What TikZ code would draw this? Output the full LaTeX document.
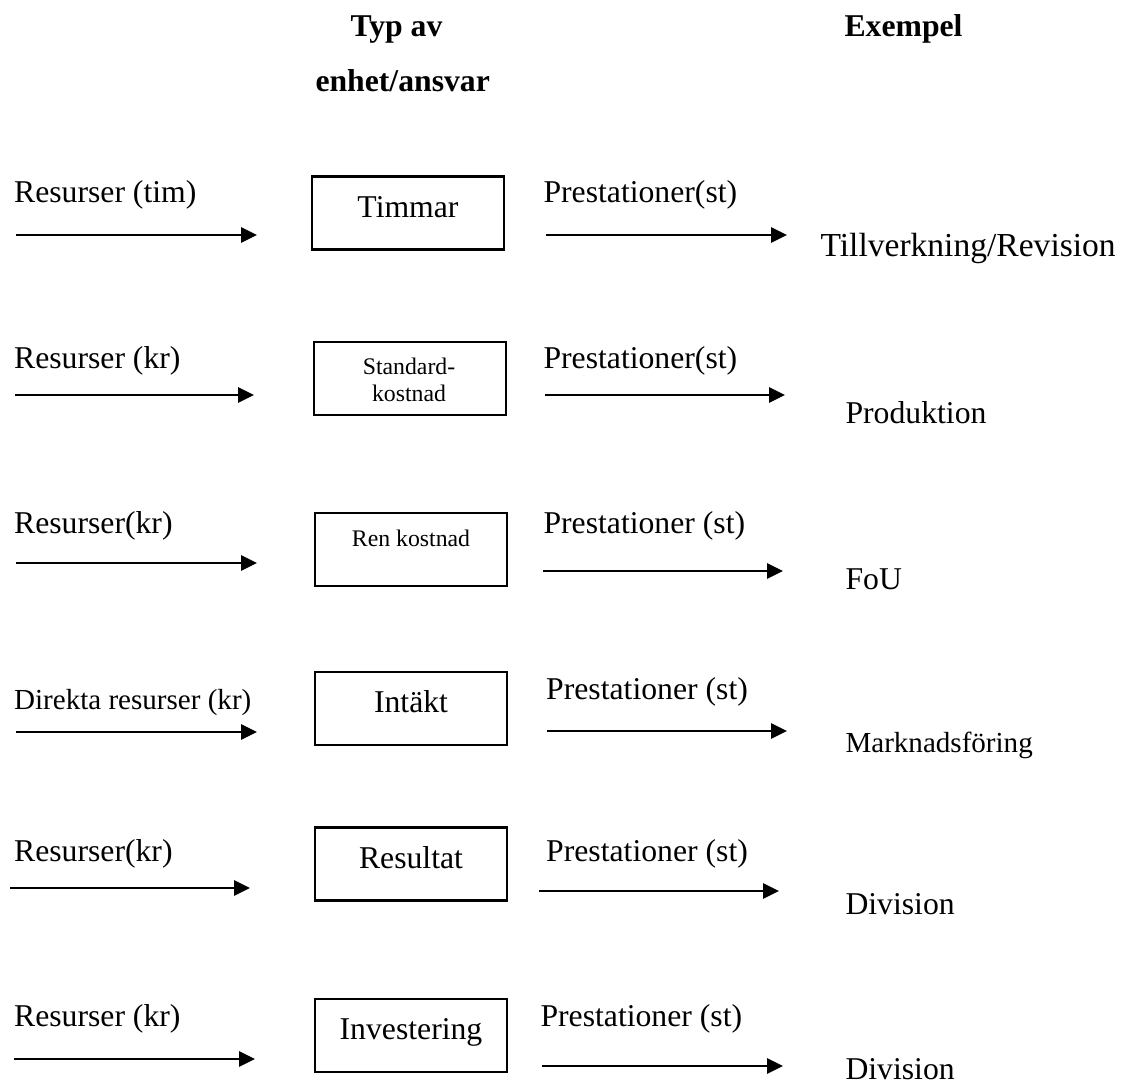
\documentclass[tikz,border=0pt]{standalone}
\usepackage{fontspec}
\setmainfont{Liberation Serif}
\usetikzlibrary{arrows.meta}
\begin{document}
\begin{tikzpicture}[x=0.3785pt, y=-0.3785pt,
  lbl/.style={anchor=base west, inner sep=0pt, font=\fontsize{12}{14}\selectfont},
  lblsmall/.style={lbl, font=\fontsize{11}{13}\selectfont},
  lblwide/.style={lbl, font=\fontsize{12.7}{15}\selectfont},
  hdr/.style={anchor=base west, inner sep=0pt, font=\fontsize{12}{14}\selectfont\bfseries},
  unitbox/.style={draw, line width=0.8pt, minimum width=73pt, minimum height=27.6pt, inner sep=0pt},
  boxtxt/.style={anchor=base, inner sep=0pt, font=\fontsize{12}{14}\selectfont},
  boxtxtsmall/.style={boxtxt, font=\fontsize{9}{10}\selectfont},
  flow/.style={line width=0.8pt, -{Triangle[length=6pt,width=5.7pt]}}]

% page frame
\useasboundingbox (0,0) rectangle (1131,1084);

% column headings
\node[hdr] (hTyp) at (350,37) {Typ av};
\node[hdr] (hEnhet) at (315,92) {enhet/ansvar};
\node[hdr] (hEx) at (844,37) {Exempel};

% ---- row 1: Timmar
\node[lbl] (in1) at (13.6,203) {Resurser (tim)};
\coordinate (a1s) at (16,235); \coordinate (a1e) at (257,235);
\draw[flow] (a1s) -- (a1e);
\node[unitbox] (b1) at (408,213) {};
\node[boxtxt] (t1) at (408,218) {Timmar};
\node[lbl] (out1) at (543,203) {Prestationer(st)};
\coordinate (c1s) at (546,235); \coordinate (c1e) at (787,235);
\draw[flow] (c1s) -- (c1e);
\node[lblwide] (ex1) at (820,257) {Tillverkning/Revision};

% ---- row 2: Standardkostnad
\node[lbl] (in2) at (13.6,369) {Resurser (kr)};
\coordinate (a2s) at (15,395); \coordinate (a2e) at (254,395);
\draw[flow] (a2s) -- (a2e);
\node[unitbox] (b2) at (410,378.5) {};
\node[boxtxtsmall] (t2a) at (409,375) {Standard-};
\node[boxtxtsmall] (t2b) at (409,402) {kostnad};
\node[lbl] (out2) at (543,369) {Prestationer(st)};
\coordinate (c2s) at (545,395); \coordinate (c2e) at (785,395);
\draw[flow] (c2s) -- (c2e);
\node[lbl] (ex2) at (845,424) {Produktion};

% ---- row 3: Ren kostnad
\node[lbl] (in3) at (13.6,534) {Resurser(kr)};
\coordinate (a3s) at (16,563); \coordinate (a3e) at (257,563);
\draw[flow] (a3s) -- (a3e);
\node[unitbox] (b3) at (411,549.5) {};
\node[boxtxtsmall] (t3) at (411,547) {Ren kostnad};
\node[lbl] (out3) at (543,534) {Prestationer (st)};
\coordinate (c3s) at (543,571); \coordinate (c3e) at (783,571);
\draw[flow] (c3s) -- (c3e);
\node[lbl] (ex3) at (845,590) {FoU};

% ---- row 4: Intäkt
\node[lblsmall] (in4) at (13.6,710) {Direkta resurser (kr)};
\coordinate (a4s) at (16,732); \coordinate (a4e) at (257,732);
\draw[flow] (a4s) -- (a4e);
\node[unitbox] (b4) at (411,708.5) {};
\node[boxtxt] (t4) at (411,713) {Intäkt};
\node[lbl] (out4) at (545.7,700) {Prestationer (st)};
\coordinate (c4s) at (547,731); \coordinate (c4e) at (787,731);
\draw[flow] (c4s) -- (c4e);
\node[lblsmall] (ex4) at (845,753) {Marknadsföring};

% ---- row 5: Resultat
\node[lbl] (in5) at (13.6,862) {Resurser(kr)};
\coordinate (a5s) at (10,888); \coordinate (a5e) at (250,888);
\draw[flow] (a5s) -- (a5e);
\node[unitbox] (b5) at (411,864) {};
\node[boxtxt] (t5) at (411,869) {Resultat};
\node[lbl] (out5) at (545.7,862) {Prestationer (st)};
\coordinate (c5s) at (539,891); \coordinate (c5e) at (779,891);
\draw[flow] (c5s) -- (c5e);
\node[lbl] (ex5) at (845,915) {Division};

% ---- row 6: Investering
\node[lbl] (in6) at (13.6,1027) {Resurser (kr)};
\coordinate (a6s) at (14,1059); \coordinate (a6e) at (255,1059);
\draw[flow] (a6s) -- (a6e);
\node[unitbox] (b6) at (411,1035.5) {};
\node[boxtxt] (t6) at (411,1040) {Investering};
\node[lbl] (out6) at (540,1027) {Prestationer (st)};
\coordinate (c6s) at (542,1066); \coordinate (c6e) at (783,1066);
\draw[flow] (c6s) -- (c6e);
\node[lbl] (ex6) at (845,1080) {Division};

\end{tikzpicture}
\end{document}
